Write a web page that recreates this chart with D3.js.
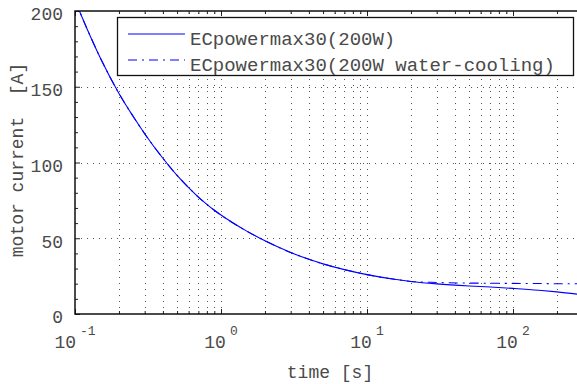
<!DOCTYPE html>
<html>
<head>
<meta charset="utf-8">
<script src="https://cdn.jsdelivr.net/npm/d3@7"></script>
<style>
  html, body { margin: 0; padding: 0; background: #fff; }
  svg { display: block; }
  text { font-family: "Liberation Mono", "DejaVu Sans Mono", monospace; fill: #4a4a4a; }
</style>
</head>
<body>
<script>
// ---- data ----
const times = [0.1, 0.12, 0.15, 0.2, 0.25, 0.3, 0.4, 0.5, 0.6, 0.7, 0.8, 0.9, 1, 1.5, 2, 3, 4, 5, 7, 10, 15, 20, 30, 50, 70, 100, 150, 200, 300];
const current200W = [207, 189, 168.5, 145.6, 130.5, 119, 102.8, 91.5, 83.4, 77.2, 72.4, 68.5, 65.3, 54.7, 48.3, 40.6, 36.1, 33.1, 29.3, 26.0, 23.1, 21.5, 19.9, 18.5, 17.8, 16.9, 15.7, 14.6, 12.7];
const current200WWater = [207, 189, 168.5, 145.6, 130.5, 119, 102.8, 91.5, 83.4, 77.2, 72.4, 68.5, 65.3, 54.7, 48.3, 40.6, 36.1, 33.1, 29.3, 26.0, 23.1, 21.5, 20.8, 20.4, 20.3, 20.2, 20.1, 20.0, 19.9];
const seriesNames = ["ECpowermax30(200W)", "ECpowermax30(200W water-cooling)"];
const xMajorTicks = [0.1, 1, 10, 100];
const xTickExponents = ["-1", "0", "1", "2"];
const yMajorTicks = [0, 50, 100, 150, 200];
const yLabel = "motor current  [A]";
const xLabel = "time [s]";

const W = 577, H = 384;
const mLeft = 75, mTop = 11, mBottom = 314;
const decadePx = 146;
const xDomain = [0.1, 300];

const svg = d3.select("body").append("svg").attr("width", W).attr("height", H);
svg.append("rect").attr("width", W).attr("height", H).attr("fill", "#fff");

const x = d3.scaleLog().domain(xDomain).range([mLeft, mLeft + decadePx * Math.log10(xDomain[1] / xDomain[0])]);
const y = d3.scaleLinear().domain([0, 200]).range([mBottom, mTop]);
const mRight = x.range()[1];

// minor x values
const xMinor = [];
for (let d = -1; d <= 2; d++) for (let m = 1; m <= 9; m++) {
  const v = m * Math.pow(10, d);
  if (v <= xDomain[1] + 1e-9) xMinor.push(+v.toPrecision(6));
}
const xMinorOnly = xMinor.filter(v => !xMajorTicks.some(t => Math.abs(t - v) < 1e-9));
const yMinor = d3.range(0, 201, 10).filter(v => v % 50 !== 0);

// grid
const grid = svg.append("g").attr("stroke", "#555").attr("stroke-width", 1).attr("stroke-dasharray", "1,5");
grid.selectAll("line.v").data(xMinor.filter(v => v > 0.1)).enter().append("line")
  .attr("x1", d => Math.round(x(d)) + 0.5).attr("x2", d => Math.round(x(d)) + 0.5)
  .attr("y1", mBottom).attr("y2", mTop);
grid.selectAll("line.h").data([50, 100, 150]).enter().append("line")
  .attr("x1", mLeft).attr("x2", mRight)
  .attr("y1", d => Math.round(y(d)) + 0.5).attr("y2", d => Math.round(y(d)) + 0.5);

// axes ticks (inward)
function styleAxis(g) {
  g.select(".domain").remove();
  g.selectAll("line").attr("stroke", "#222");
  g.selectAll("text").remove();
}
svg.append("g").attr("transform", `translate(0,${mBottom})`)
  .call(d3.axisBottom(x).tickValues(xMajorTicks).tickSize(-5).tickFormat("")).call(styleAxis);
svg.append("g").attr("transform", `translate(0,${mBottom})`)
  .call(d3.axisBottom(x).tickValues(xMinorOnly).tickSize(-3).tickFormat("")).call(styleAxis);
svg.append("g").attr("transform", `translate(0,${mTop})`)
  .call(d3.axisTop(x).tickValues(xMajorTicks).tickSize(-5).tickFormat("")).call(styleAxis);
svg.append("g").attr("transform", `translate(0,${mTop})`)
  .call(d3.axisTop(x).tickValues(xMinorOnly).tickSize(-3).tickFormat("")).call(styleAxis);
svg.append("g").attr("transform", `translate(${mLeft},0)`)
  .call(d3.axisLeft(y).tickValues(yMajorTicks).tickSize(-5).tickFormat("")).call(styleAxis);
svg.append("g").attr("transform", `translate(${mLeft},0)`)
  .call(d3.axisLeft(y).tickValues(yMinor).tickSize(-3).tickFormat("")).call(styleAxis);

// curves
const line = d3.line().x(d => x(d[0])).y(d => y(d[1])).curve(d3.curveMonotoneX);
svg.append("clipPath").attr("id", "clip").append("rect")
  .attr("x", mLeft).attr("y", mTop).attr("width", mRight - mLeft).attr("height", mBottom - mTop);
const plot = svg.append("g").attr("clip-path", "url(#clip)");
plot.append("path").datum(times.map((t, i) => [t, current200W[i]]))
  .attr("d", line).attr("fill", "none").attr("stroke", "#0000ff").attr("stroke-width", 1.1);
plot.append("path").datum(times.map((t, i) => [t, current200WWater[i]]))
  .attr("d", line).attr("fill", "none").attr("stroke", "#0000ff").attr("stroke-width", 1.1)
  .attr("stroke-dasharray", "9,5,2,5");

// frame
svg.append("path")
  .attr("d", `M${mRight},${mTop}H${mLeft}V${mBottom}H${mRight}`)
  .attr("fill", "none").attr("stroke", "#111").attr("stroke-width", 1.5);

// y tick labels
svg.selectAll("text.yt").data(yMajorTicks).enter().append("text")
  .attr("x", mLeft - 12).attr("y", d => y(d) + 3).attr("dy", "0.35em")
  .attr("text-anchor", "end").attr("font-size", 18).text(d => d);

// x tick labels
const xt = svg.selectAll("text.xt").data(xMajorTicks).enter().append("text")
  .attr("x", d => x(d)).attr("y", 348).attr("text-anchor", "middle").attr("font-size", 18);
xt.append("tspan").text("10");
xt.append("tspan").attr("dx", 4).attr("dy", -13).attr("font-size", 13).text((d, i) => xTickExponents[i]);

// axis labels
svg.append("text").attr("x", 330).attr("y", 378).attr("text-anchor", "middle")
  .attr("font-size", 18).style("white-space", "pre").text(xLabel);
svg.append("text").attr("transform", `translate(23,160) rotate(-90)`).attr("text-anchor", "middle")
  .attr("font-size", 18).style("white-space", "pre").text(yLabel);

// legend
const lg = svg.append("g");
lg.append("rect").attr("x", 117.5).attr("y", 17.5).attr("width", 456).attr("height", 58)
  .attr("fill", "#fff").attr("stroke", "#111").attr("stroke-width", 1.3);
const legendRows = [{ y: 34, dash: null }, { y: 60, dash: "9,5,2,5" }];
legendRows.forEach((r, i) => {
  lg.append("line").attr("x1", 128).attr("x2", 185).attr("y1", r.y).attr("y2", r.y)
    .attr("stroke", "#0000ff").attr("stroke-width", 1.1).attr("stroke-dasharray", r.dash);
  lg.append("text").attr("x", 190).attr("y", r.y + 11).attr("font-size", 19).text(seriesNames[i]);
});
</script>
</body>
</html>
